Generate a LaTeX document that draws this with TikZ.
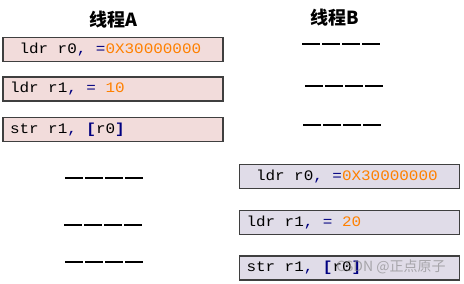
\documentclass[tikz,border=0pt]{standalone}
\usepackage{fontspec}
\setmonofont[FakeStretch=1.1]{Liberation Mono}
\newfontfamily\cjk{Noto Sans CJK SC}
\definecolor{pinkA}{HTML}{F2DCDB}
\definecolor{lilacB}{HTML}{E0DCE8}
\definecolor{edge}{HTML}{3F3F3F}
\definecolor{num}{HTML}{FF8000}
\definecolor{punc}{HTML}{000080}
\newcommand{\cm}{\textcolor{punc}{,}}
\newcommand{\eq}{\textcolor{punc}{=}}
\newcommand{\nm}[1]{\textcolor{num}{#1}}
\newcommand{\gap}{\hspace*{9.5pt}}
\tikzset{
  instr/.style={draw=edge, line width=1.2pt, text width=206pt, inner xsep=7pt,
    minimum height=24pt, align=left, font=\ttfamily\fontsize{14.5}{14.5}\selectfont},
  instrA/.style={instr, fill=pinkA},
  instrB/.style={instr, fill=lilacB},
  title/.style={font=\cjk\bfseries\fontsize{18}{18}\selectfont},
  idle/.style={line width=1.3pt, dash pattern=on 18pt off 2pt}
}
\begin{document}
\begin{tikzpicture}[x=1pt, y=-1pt]

            % page is (0,0) rectangle (464,284)
            \useasboundingbox (0,0) rectangle (464,284);

            % thread A
            \scope

            \node[title] (titleA) at (113,20) {线程A};
            \node[instrA] (a1) at (113,49.5) {\gap ldr\gap r0\cm\gap\eq\nm{0X30000000}};
            \node[instrA] (a2) at (113,89) {ldr\gap r1\cm\gap\eq\gap\nm{10}};
            \node[instrA] (a3) at (113,129.5) {str\gap r1\cm\gap\textcolor{punc}{\bfseries[}r0\textcolor{punc}{\bfseries]}};

            \draw[idle] (65,178) -- ++(78,0)
                (64,225) -- ++(78,0)
                (65,262) -- ++(78,0);

            \endscope

            % thread B
            \scope

            \node[title] (titleB) at (335,18) {线程B};
            \draw[idle] (302,44) -- ++(78,0)
                (305,86) -- ++(78,0)
                (303,125) -- ++(78,0);

            \node[instrB] (b1) at (349.5,176.5) {\gap ldr\gap r0\cm\gap\eq\nm{0X30000000}};
            \node[instrB] (b2) at (349.5,222.5) {ldr\gap r1\cm\gap\eq\gap\nm{20}};
            \node[instrB] (b3) at (349.5,268) {str\gap r1\cm\gap\textcolor{punc}{\bfseries[}r0\textcolor{punc}{\bfseries]}};

            \endscope

            % watermark
            \node[text=gray, opacity=0.6, font=\cjk\fontsize{14}{14}\selectfont] (mark) at (391,267) {CSDN @正点原子};
            \end{tikzpicture}
\end{document}
